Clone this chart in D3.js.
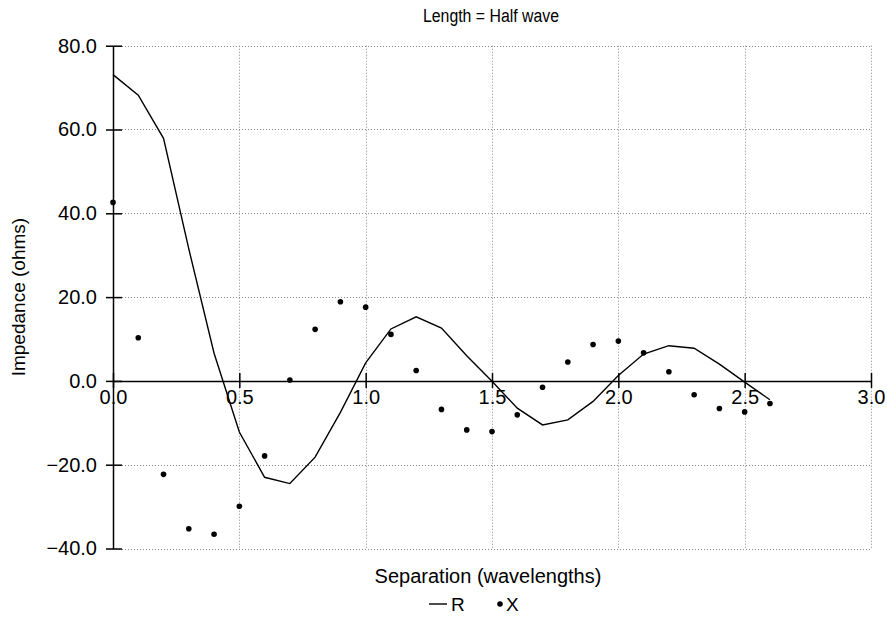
<!DOCTYPE html>
<html>
<head>
<meta charset="utf-8">
<script src="https://cdn.jsdelivr.net/npm/d3@7"></script>
<style>
  body { margin: 0; background: #fff; }
  text { font-family: "Liberation Sans", Arial, sans-serif; fill: #000; }
</style>
</head>
<body>
<svg width="887" height="618"></svg>
<script>
// separation in wavelengths
const separation = [0.0, 0.1, 0.2, 0.3, 0.4, 0.5, 0.6, 0.7, 0.8, 0.9, 1.0, 1.1, 1.2, 1.3,
                    1.4, 1.5, 1.6, 1.7, 1.8, 1.9, 2.0, 2.1, 2.2, 2.3, 2.4, 2.5, 2.6];
// mutual resistance R (line)
const resistance = [73.1, 68.2, 57.9, 31.5, 6.6, -12.2, -23.0, -24.5, -18.2, -7.5, 4.3, 12.4, 15.3, 12.6,
                    6.0, -0.1, -6.5, -10.5, -9.3, -4.9, 1.3, 6.4, 8.4, 7.8, 4.0, -0.3, -4.5];
// mutual reactance X (dots)
const reactance = [42.6, 10.3, -22.3, -35.3, -36.6, -29.9, -17.9, 0.2, 12.3, 18.9, 17.6, 11.1, 2.5, -6.8,
                   -11.7, -12.1, -8.1, -1.5, 4.5, 8.7, 9.5, 6.7, 2.2, -3.3, -6.6, -7.4, -5.4];

const xTicks = [0.0, 0.5, 1.0, 1.5, 2.0, 2.5, 3.0];
const yTicks = [-40, -20, 0, 20, 40, 60, 80];

const svg = d3.select('svg');
const x = d3.scaleLinear().domain([0, 3]).range([113, 871]);
const y = d3.scaleLinear().domain([-40, 80]).range([548.5, 45.7]);
const fmt = d3.format('.1f');

// grid
const grid = svg.append('g')
    .attr('stroke', '#888')
    .attr('stroke-width', 1)
    .attr('stroke-dasharray', '1,2');
grid.selectAll('.gx')
    .data(xTicks.filter(d => d > 0))
    .join('line')
    .attr('x1', d => Math.round(x(d)) + 0.5).attr('x2', d => Math.round(x(d)) + 0.5)
    .attr('y1', y(80)).attr('y2', y(-40));
grid.selectAll('.gy')
    .data(yTicks.filter(d => d !== 0))
    .join('line')
    .attr('x1', x(0)).attr('x2', x(3))
    .attr('y1', d => Math.round(y(d)) + 0.5).attr('y2', d => Math.round(y(d)) + 0.5);

// y axis
const yAxis = svg.append('g')
    .attr('transform', `translate(${x(0)},0)`)
    .call(d3.axisLeft(y).tickValues(yTicks).tickFormat(fmt).tickSizeOuter(0));
yAxis.select('.domain').attr('stroke-width', 1.5);
yAxis.selectAll('.tick line').attr('x1', 9).attr('x2', -7).attr('stroke-width', 1.5);
yAxis.selectAll('.tick text')
    .attr('x', -16)
    .attr('font-family', '"Liberation Sans", Arial, sans-serif')
    .attr('font-size', 20);

// x axis on zero line
const xAxis = svg.append('g')
    .attr('transform', `translate(0,${y(0)})`)
    .call(d3.axisBottom(x).tickValues(xTicks).tickFormat(fmt).tickSizeOuter(0));
xAxis.select('.domain').attr('stroke-width', 1.5);
xAxis.selectAll('.tick line').attr('y1', -8).attr('y2', 7).attr('stroke-width', 1.5);
xAxis.selectAll('.tick text')
    .attr('y', 9)
    .attr('font-family', '"Liberation Sans", Arial, sans-serif')
    .attr('font-size', 20);

// R line
const line = d3.line()
    .x((d, i) => x(separation[i]))
    .y(d => y(d));
svg.append('path')
    .datum(resistance)
    .attr('fill', 'none')
    .attr('stroke', '#000')
    .attr('stroke-width', 1.4)
    .attr('d', line);

// X dots
svg.selectAll('.dot')
    .data(reactance)
    .join('circle')
    .attr('cx', (d, i) => x(separation[i]))
    .attr('cy', d => y(d))
    .attr('r', 2.8)
    .attr('fill', '#000');

// titles
svg.append('text')
    .attr('x', 491).attr('y', 22)
    .attr('text-anchor', 'middle')
    .attr('font-size', 18)
    .attr('textLength', 136)
    .attr('lengthAdjust', 'spacingAndGlyphs')
    .text('Length = Half wave');

svg.append('text')
    .attr('x', 488).attr('y', 583)
    .attr('text-anchor', 'middle')
    .attr('font-size', 20)
    .text('Separation (wavelengths)');

svg.append('text')
    .attr('transform', `translate(25,${y(20)}) rotate(-90)`)
    .attr('text-anchor', 'middle')
    .attr('font-size', 19)
    .text('Impedance (ohms)');

// legend
const legend = svg.append('g');
legend.append('line')
    .attr('x1', 429).attr('x2', 447)
    .attr('y1', 604).attr('y2', 604)
    .attr('stroke', '#000').attr('stroke-width', 1.4);
legend.append('text')
    .attr('x', 451).attr('y', 611)
    .attr('font-size', 19)
    .text('R');
legend.append('circle')
    .attr('cx', 500).attr('cy', 604).attr('r', 2.8).attr('fill', '#000');
legend.append('text')
    .attr('x', 506).attr('y', 611)
    .attr('font-size', 19)
    .text('X');
</script>
</body>
</html>
